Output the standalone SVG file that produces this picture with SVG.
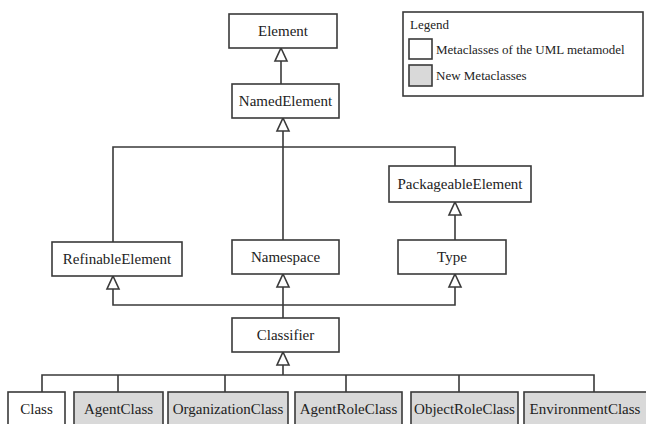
<svg xmlns="http://www.w3.org/2000/svg" width="646" height="424" viewBox="0 0 646 424">
<defs>
<style>
.box{fill:#fff;stroke:#3a3a3a;stroke-width:1.6}
.new{fill:#d9d9d9;stroke:#3a3a3a;stroke-width:1.6}
.t{font-size:15px;fill:#222;text-anchor:middle}
.lt{font-size:13px;fill:#222}
.ln{fill:none;stroke:#3a3a3a;stroke-width:1.6}
.ar{fill:#fff;stroke:#3a3a3a;stroke-width:1.6;stroke-linejoin:miter}
</style>
</defs>
<rect width="646" height="424" fill="#fff"/>
<g id="connectors">
<path class="ln" d="M281 61V84"/>
<path class="ln" d="M283 131V240M113 242V147H455V166"/>
<path class="ln" d="M455 215V240"/>
<path class="ln" d="M113 289V305H455V287M283 287V318"/>
<path class="ln" d="M283 365V375M42 392V375H594V392M118 375V392M225 375V392M346 375V392M459 375V392"/>
<polygon class="ar" points="281,48 287,61 275,61"/>
<polygon class="ar" points="283,118 289,131 277,131"/>
<polygon class="ar" points="455,202 461,215 449,215"/>
<polygon class="ar" points="113,276 119,289 107,289"/>
<polygon class="ar" points="283,274 289,287 277,287"/>
<polygon class="ar" points="455,274 461,287 449,287"/>
<polygon class="ar" points="283,352 289,365 277,365"/>
</g>
<g font-family="Liberation Serif, Times New Roman, serif">
<g id="legend">
<rect class="box" x="403" y="12" width="240" height="84"/>
<text class="lt" x="410" y="29">Legend</text>
<rect class="box" x="409" y="39" width="23" height="20"/>
<text class="lt" x="436" y="54">Metaclasses of the UML metamodel</text>
<rect class="new" x="409" y="65" width="23" height="21"/>
<text class="lt" x="436" y="80">New Metaclasses</text>
</g>
<g id="Element"><rect class="box" x="229" y="14" width="108" height="34"/><text class="t" x="283" y="36">Element</text></g>
<g id="NamedElement"><rect class="box" x="232" y="84" width="107" height="34"/><text class="t" x="285.5" y="106">NamedElement</text></g>
<g id="PackageableElement"><rect class="box" x="389" y="166" width="142" height="36"/><text class="t" x="460" y="189">PackageableElement</text></g>
<g id="RefinableElement"><rect class="box" x="52" y="242" width="130" height="34"/><text class="t" x="117" y="264">RefinableElement</text></g>
<g id="Namespace"><rect class="box" x="232" y="240" width="107" height="34"/><text class="t" x="285.5" y="262">Namespace</text></g>
<g id="Type"><rect class="box" x="398" y="240" width="108" height="34"/><text class="t" x="452" y="262">Type</text></g>
<g id="Classifier"><rect class="box" x="232" y="318" width="107" height="34"/><text class="t" x="285.5" y="340">Classifier</text></g>
<g id="Class"><rect class="box" x="8" y="392" width="57" height="40"/><text class="t" x="36.5" y="414">Class</text></g>
<g id="AgentClass"><rect class="new" x="74" y="392" width="89" height="40"/><text class="t" x="118.5" y="414">AgentClass</text></g>
<g id="OrganizationClass"><rect class="new" x="168" y="392" width="120" height="40"/><text class="t" x="228" y="414">OrganizationClass</text></g>
<g id="AgentRoleClass"><rect class="new" x="295" y="392" width="107" height="40"/><text class="t" x="348.5" y="414">AgentRoleClass</text></g>
<g id="ObjectRoleClass"><rect class="new" x="411" y="392" width="107" height="40"/><text class="t" x="464.5" y="414">ObjectRoleClass</text></g>
<g id="EnvironmentClass"><rect class="new" x="524" y="392" width="130" height="40"/><text class="t" x="585" y="414">EnvironmentClass</text></g>
</g>
</svg>
